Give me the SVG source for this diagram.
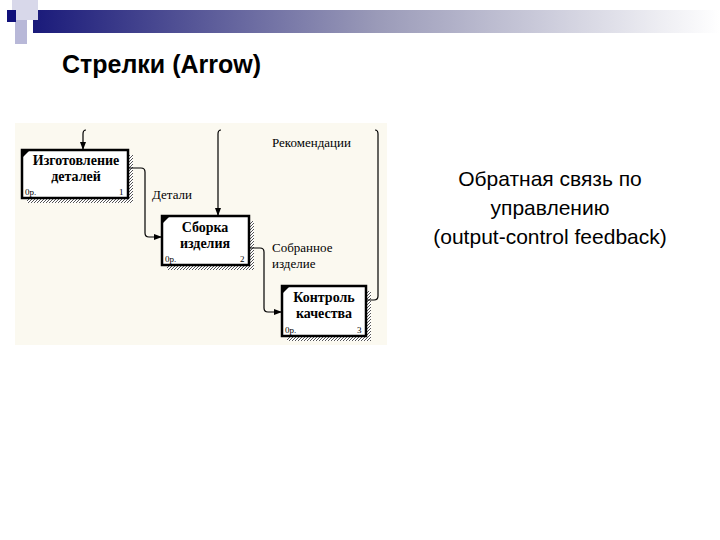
<svg xmlns="http://www.w3.org/2000/svg" width="720" height="540" viewBox="0 0 720 540">
<defs>
<linearGradient id="bar" x1="0" x2="1" y1="0" y2="0"><stop offset="0" stop-color="#1a1a7a"/><stop offset="0.5" stop-color="#9a9ab8"/><stop offset="1" stop-color="#ffffff"/></linearGradient>
<pattern id="hatch" width="3" height="3" patternUnits="userSpaceOnUse"><rect width="3" height="3" fill="#fff"/><path d="M0 3L3 0" stroke="#555" stroke-width="1"/></pattern>
<marker id="ar" markerWidth="8" markerHeight="6" refX="8" refY="3" orient="auto" markerUnits="userSpaceOnUse"><path d="M0 0L8 3L0 6Z" fill="#000"/></marker>
</defs>
<style>
.box{fill:#fff;stroke:#000;stroke-width:2.5}
.bt{font-family:"Liberation Serif",serif;font-weight:bold;font-size:14px;text-anchor:middle;fill:#000}
.sm{font-family:"Liberation Serif",serif;font-size:9px;fill:#000}
.lb{font-family:"Liberation Serif",serif;font-size:13px;fill:#000}
.ln{fill:none;stroke:#000;stroke-width:1.2}
</style>
<rect width="720" height="540" fill="#fff"/>
<rect x="33" y="10" width="687" height="23" fill="url(#bar)"/>
<rect x="12" y="0" width="26" height="20" fill="#d8d8ea"/>
<rect x="15" y="20" width="12" height="24" fill="#b8b8d8"/>
<rect x="7" y="10" width="9" height="12" fill="#10107a"/>
<text x="62" y="73" font-family="Liberation Sans,Arial,sans-serif" font-weight="bold" font-size="25">Стрелки (Arrow)</text>
<rect x="15" y="123" width="372" height="222" fill="#fbf9f0"/>
<g id="n1"><rect x="27" y="155" width="106" height="48" fill="url(#hatch)"/><rect class="box" x="22" y="150" width="106" height="48"/><path d="M23 151L29 151L23 157Z"/><text class="bt" x="76" y="165">Изготовление</text><text class="bt" x="76" y="181">деталей</text><text class="sm" x="25" y="195">0р.</text><text class="sm" x="119" y="195">1</text></g>
<g id="n2"><rect x="167" y="221" width="87" height="49" fill="url(#hatch)"/><rect class="box" x="162" y="216" width="87" height="49"/><path d="M163 217L169 217L163 223Z"/><text class="bt" x="205" y="232">Сборка</text><text class="bt" x="205" y="248">изделия</text><text class="sm" x="165" y="262">0р.</text><text class="sm" x="240" y="262">2</text></g>
<g id="n3"><rect x="287" y="291" width="84" height="50" fill="url(#hatch)"/><rect class="box" x="282" y="286" width="84" height="50"/><path d="M283 287L289 287L283 293Z"/><text class="bt" x="324" y="302">Контроль</text><text class="bt" x="324" y="318">качества</text><text class="sm" x="285" y="333">0р.</text><text class="sm" x="357" y="333">3</text></g>
<g id="connectors">
<path class="ln" d="M86 130Q83 130 83 134L83 150" marker-end="url(#ar)"/>
<path class="ln" d="M221 130Q218 130 218 134L218 216" marker-end="url(#ar)"/>
<path class="ln" d="M128 168L141 168Q145 168 145 172L145 233Q145 237 149 237L162 237" marker-end="url(#ar)"/>
<path class="ln" d="M249 248L260 248Q264 248 264 252L264 308Q264 312 268 312L282 312" marker-end="url(#ar)"/>
<path class="ln" d="M366 300L374 300Q378 300 378 296L378 134Q378 130 375 130"/>
<text class="lb" x="272" y="147">Рекомендации</text>
<text class="lb" x="152" y="199">Детали</text>
<text class="lb" x="272" y="252">Собранное</text>
<text class="lb" x="272" y="268">изделие</text>
</g>
<g font-family="Liberation Sans,Arial,sans-serif" font-size="21" text-anchor="middle" fill="#000">
<text x="550" y="186">Обратная связь по</text>
<text x="550" y="215">управлению</text>
<text x="550" y="244">(output-control feedback)</text>
</g>
</svg>
